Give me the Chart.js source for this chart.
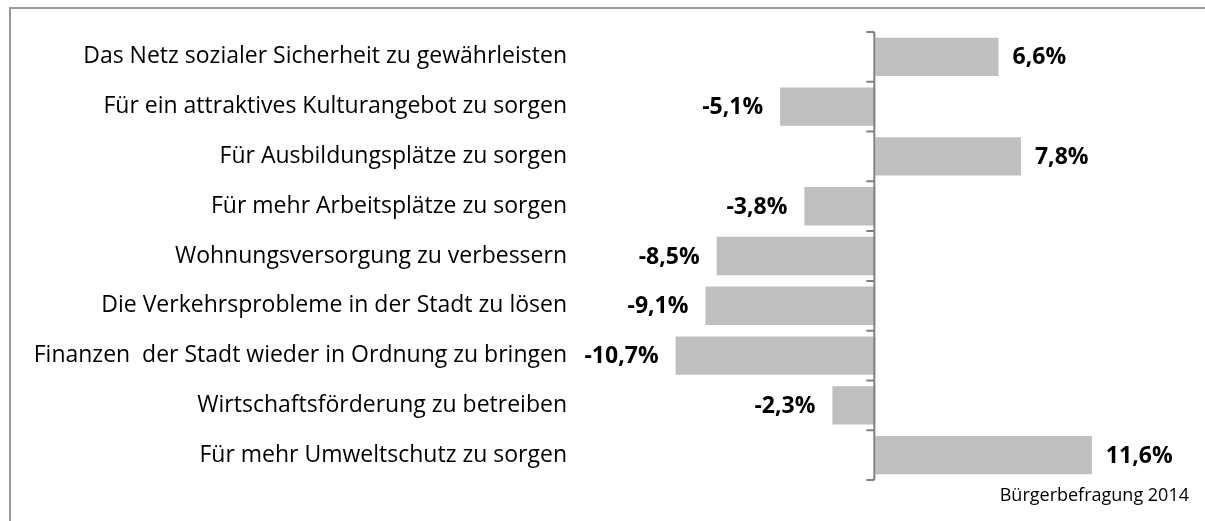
<!DOCTYPE html>
<html>
<head>
<meta charset="utf-8">
<script src="https://cdn.jsdelivr.net/npm/chart.js@4.4.1/dist/chart.umd.min.js"></script>
<style>
  html, body { margin: 0; padding: 0; background: #fff; }
  #wrap { position: relative; width: 1205px; height: 521px; overflow: hidden; }
  #frame {
    position: absolute; left: 9px; top: 7px; width: 1300px; height: 600px;
    border-top: 2px solid #9a9a9a; border-left: 2px solid #9a9a9a;
  }
  canvas { position: absolute; left: 0; top: 0; }
  #source {
    position: absolute; right: 16px; top: 482px;
    font: 18px "Open Sans", sans-serif; color: #000;
  }
</style>
</head>
<body>
<div id="wrap">
  <div id="frame"></div>
  <canvas id="chart" width="1205" height="521"></canvas>
  <div id="source">Bürgerbefragung 2014</div>
</div>
<script>
const categories = [
  "Das Netz sozialer Sicherheit zu gewährleisten",
  "Für ein attraktives Kulturangebot zu sorgen",
  "Für Ausbildungsplätze zu sorgen",
  "Für mehr Arbeitsplätze zu sorgen",
  "Wohnungsversorgung zu verbessern",
  "Die Verkehrsprobleme in der Stadt zu lösen",
  "Finanzen  der Stadt wieder in Ordnung zu bringen",
  "Wirtschaftsförderung zu betreiben",
  "Für mehr Umweltschutz zu sorgen"
];
const changes = [6.6, -5.1, 7.8, -3.8, -8.5, -9.1, -10.7, -2.3, 11.6];

const fmt = v => v.toFixed(1).replace(".", ",") + "%";

// zero line with small tick marks on the left, like the Excel axis
const zeroAxis = {
  id: "zeroAxis",
  afterDatasetsDraw(chart) {
    const { ctx, chartArea, scales } = chart;
    const x0 = scales.x.getPixelForValue(0);
    const step = (chartArea.bottom - chartArea.top) / categories.length;
    ctx.save();
    ctx.strokeStyle = "#808080";
    ctx.lineWidth = 2;
    ctx.beginPath();
    ctx.moveTo(x0 - 1, chartArea.top);
    ctx.lineTo(x0 - 1, chartArea.bottom);
    for (let i = 0; i <= categories.length; i++) {
      const y = chartArea.top + i * step;
      ctx.moveTo(x0 - 9, y);
      ctx.lineTo(x0 - 1, y);
    }
    ctx.stroke();
    ctx.restore();
  }
};

// bold value labels beside the bar ends
const valueLabels = {
  id: "valueLabels",
  afterDatasetsDraw(chart) {
    const { ctx } = chart;
    const meta = chart.getDatasetMeta(0);
    ctx.save();
    ctx.font = "bold 23px 'Open Sans', sans-serif";
    ctx.fillStyle = "#000";
    ctx.textBaseline = "middle";
    meta.data.forEach((bar, i) => {
      const v = changes[i];
      if (v >= 0) {
        ctx.textAlign = "left";
        ctx.fillText(fmt(v), bar.x + 14, bar.y + 1);
      } else {
        ctx.textAlign = "right";
        ctx.fillText(fmt(v), bar.x - 17, bar.y + 1);
      }
    });
    ctx.restore();
  }
};

new Chart(document.getElementById("chart"), {
  type: "bar",
  data: {
    labels: categories,
    datasets: [{
      data: changes,
      backgroundColor: "#bfbfbf",
      borderWidth: 0,
      barPercentage: 0.77,
      categoryPercentage: 1
    }]
  },
  options: {
    indexAxis: "y",
    responsive: false,
    animation: false,
    layout: { padding: { top: 32, bottom: 41, left: 0, right: 31 } },
    plugins: { legend: { display: false }, tooltip: { enabled: false } },
    scales: {
      x: { display: false, min: -14, max: 16 },
      y: {
        grid: { display: false, drawTicks: false },
        border: { display: false },
        ticks: {
          color: "#000",
          padding: 47,
          font: { family: "Open Sans", size: 23 }
        },
        afterFit(scale) {
          scale.width = 614;
          scale.paddingTop = 0;
          scale.paddingBottom = 0;
        }
      }
    }
  },
  plugins: [zeroAxis, valueLabels]
});
</script>
</body>
</html>
